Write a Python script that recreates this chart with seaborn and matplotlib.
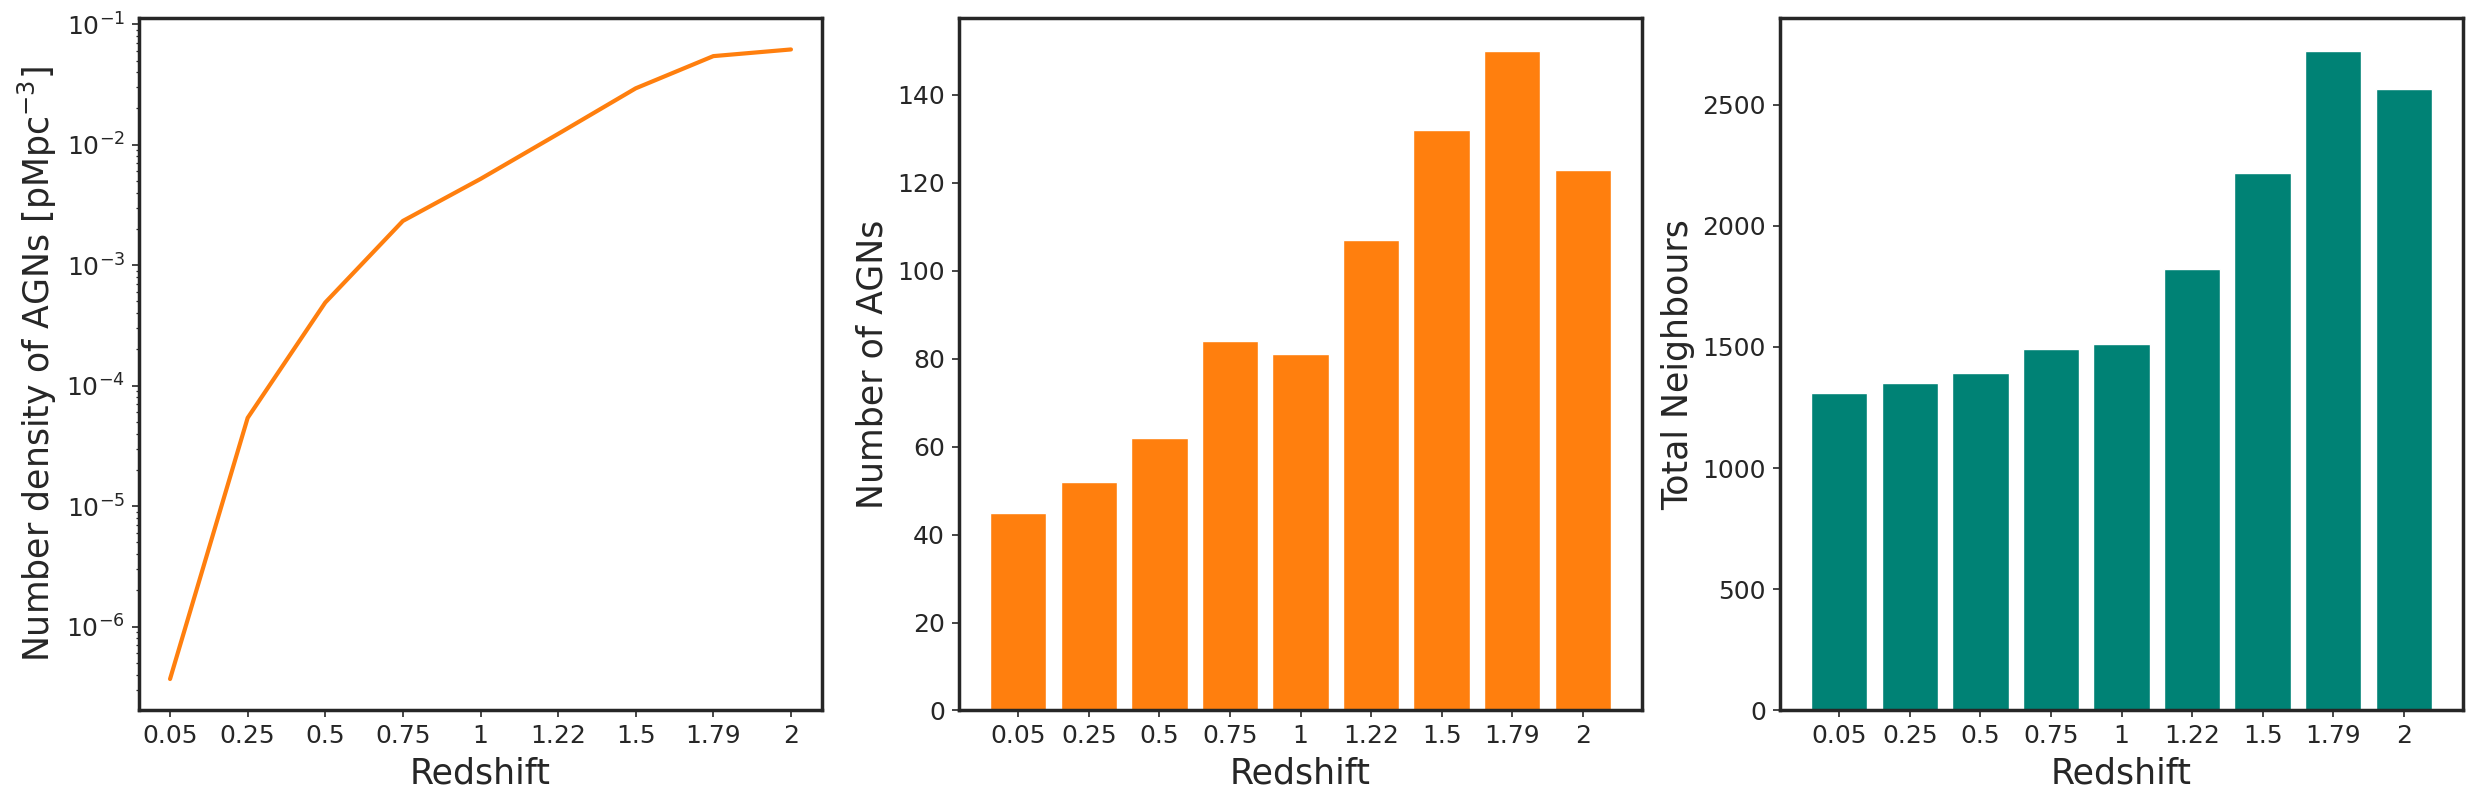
import numpy as np
import pandas as pd
import matplotlib
matplotlib.use("Agg")
import matplotlib.pyplot as plt
import seaborn as sns

# ---- data ----
redshift_labels = ["0.05", "0.25", "0.5", "0.75", "1", "1.22", "1.5", "1.79", "2"]
number_density = [3.67e-7, 5.4e-5, 4.9e-4, 2.33e-3, 5.2e-3, 1.23e-2, 2.94e-2, 5.44e-2, 6.18e-2]
n_agns = [45, 52, 62, 84, 81, 107, 132, 150, 123]
total_neighbours = [1311, 1350, 1394, 1490, 1511, 1821, 2216, 2721, 2564]

ORANGE = "#ff7f0e"
TEAL = "#008275"

sns.set_style("ticks")
plt.rcParams.update({
    "font.family": ["DejaVu Sans"],
    "axes.linewidth": 2.5,
    "axes.edgecolor": "#262626",
    "xtick.color": "#262626",
    "ytick.color": "#262626",
    "xtick.labelcolor": "#262626",
    "ytick.labelcolor": "#262626",
    "axes.labelcolor": "#262626",
    "xtick.major.size": 5,
    "ytick.major.size": 5,
    "xtick.major.pad": 5,
    "ytick.major.pad": 5,
    "xtick.major.width": 1.2,
    "ytick.major.width": 1.2,
    "ytick.minor.size": 2.2,
    "ytick.minor.width": 0.9,
    "xtick.labelsize": 18,
    "ytick.labelsize": 18,
    "axes.labelsize": 25,
    "axes.labelpad": 5.5,
})

W, H = 2478, 806
fig = plt.figure(figsize=(W / 100, H / 100), dpi=100)
bottom = 0.1185
height = 0.8592
width = 683 / W
ax1 = fig.add_axes([139 / W, bottom, width, height])
ax2 = fig.add_axes([959 / W, bottom, width, height])
ax3 = fig.add_axes([1780 / W, bottom, width, height])

pos = np.arange(len(redshift_labels))

# Panel 1: number density (log)
df1 = pd.DataFrame({"pos": pos, "density": number_density})
sns.lineplot(data=df1, x="pos", y="density", ax=ax1, color=ORANGE, linewidth=3.0)
ax1.set_yscale("log")
ax1.set_xticks(pos)
ax1.set_xticklabels(redshift_labels)
ax1.set_xlim(-0.4, 8.4)
ax1.set_xlabel("Redshift")
ax1.set_ylabel(r"Number density of AGNs [pMpc$^{-3}$]")

# Panel 2: number of AGNs
df2 = pd.DataFrame({"z": redshift_labels, "n": n_agns})
sns.barplot(data=df2, x="z", y="n", ax=ax2, color=ORANGE, saturation=1, width=0.8)
ax2.set_xlim(-0.84, 8.84)
ax2.set_ylim(0, 150 * 1.05)
ax2.set_xlabel("Redshift")
ax2.set_ylabel("Number of AGNs")

# Panel 3: total neighbours
df3 = pd.DataFrame({"z": redshift_labels, "n": total_neighbours})
sns.barplot(data=df3, x="z", y="n", ax=ax3, color=TEAL, saturation=1, width=0.8)
ax3.set_xlim(-0.84, 8.84)
ax3.set_ylim(0, 2721 * 1.05)
ax3.set_xlabel("Redshift")
ax3.set_ylabel("Total Neighbours")

for ax in (ax1, ax2, ax3):
    for s in ax.spines.values():
        s.set_visible(True)

fig.savefig("out.png", dpi=100)
